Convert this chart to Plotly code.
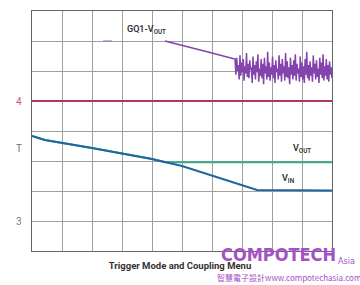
import plotly.graph_objects as go
import numpy as np

# ---- data ----
ref_x = [0, 10]
ref_v = [4.0, 4.0]

vin_x = [0, 0.43, 2.0, 4.0, 5.0, 7.5, 10]
vin_v = [3.708, 3.675, 3.608, 3.517, 3.458, 3.258, 3.255]

vout_x = [0, 0.43, 2.0, 4.0, 4.43, 10]
vout_v = [3.708, 3.675, 3.608, 3.517, 3.49, 3.49]

gq_dash_x = [2.37, 2.67]
gq_dash_v = [4.5, 4.5]

gq_ramp_x = [4.43, 4.8, 5.37, 6.0, 6.5, 6.77]
gq_ramp_v = [4.50, 4.475, 4.442, 4.40, 4.367, 4.35]

gq_noise_v = [4.33, 4.22, 4.36, 4.25, 4.30, 4.18, 4.38, 4.21, 4.32, 4.24, 4.35, 4.17, 4.29, 4.23, 4.40, 4.20,
              4.31, 4.19, 4.34, 4.26, 4.28, 4.15, 4.37, 4.22, 4.30, 4.18, 4.33, 4.24, 4.39, 4.16, 4.27, 4.21,
              4.35, 4.19, 4.31, 4.14, 4.36, 4.23, 4.29, 4.18, 4.41, 4.20, 4.32, 4.17, 4.28, 4.22, 4.37, 4.19,
              4.30, 4.15, 4.34, 4.24, 4.27, 4.18, 4.38, 4.21, 4.31, 4.16, 4.35, 4.23, 4.29, 4.17, 4.40, 4.20,
              4.33, 4.19, 4.28, 4.14, 4.36, 4.22, 4.30, 4.18, 4.34, 4.21, 4.39, 4.17, 4.31, 4.23, 4.27, 4.16,
              4.37, 4.20, 4.32, 4.18, 4.29, 4.15, 4.35, 4.22, 4.41, 4.19, 4.30, 4.17, 4.33, 4.21, 4.28, 4.16,
              4.38, 4.23, 4.31, 4.18, 4.34, 4.20, 4.27, 4.15, 4.36, 4.22, 4.32, 4.19, 4.39, 4.17, 4.29, 4.21,
              4.35, 4.18, 4.30, 4.16, 4.33, 4.22, 4.28, 4.19]
gq_noise_x = list(np.linspace(6.77, 10, len(gq_noise_v)))

y_labels = [(4.0, "4", "#c0607a"), (3.608, "T", "#707070"), (3.0, "3", "#857595")]

fig = go.Figure()
fig.add_trace(go.Scatter(x=ref_x, y=ref_v, mode="lines", line=dict(color="#b03a5e", width=2)))
fig.add_trace(go.Scatter(x=vout_x, y=vout_v, mode="lines", line=dict(color="#3aa98c", width=2)))
fig.add_trace(go.Scatter(x=vin_x, y=vin_v, mode="lines", line=dict(color="#1f66a0", width=2)))
fig.add_trace(go.Scatter(x=gq_dash_x, y=gq_dash_v, mode="lines", line=dict(color="#a07ac0", width=1.2)))
fig.add_trace(go.Scatter(x=gq_ramp_x + gq_noise_x, y=gq_ramp_v + gq_noise_v, mode="lines",
                         line=dict(color="#8443ad", width=1.5)))

font = "Roboto, DejaVu Sans, sans-serif"
for v, t, c in y_labels:
    fig.add_annotation(x=0, y=v, xref="paper", yref="y", text=t, showarrow=False,
                       xanchor="right", xshift=-8, font=dict(family=font, size=10, color=c))

lab = dict(family=font, size=9, color="#333", weight=600)
fig.add_annotation(x=3.8, y=4.59, text="GQ1-V<sub>OUT</sub>", showarrow=False, font=lab)
fig.add_annotation(x=9.0, y=3.60, text="V<sub>OUT</sub>", showarrow=False, font=lab)
fig.add_annotation(x=8.55, y=3.35, text="V<sub>IN</sub>", showarrow=False, font=lab)

# watermark (pixel positions converted to paper coords of the plot area)
wm = "#a451c6"
def px(xp, yp):
    return (xp - 32) / 300, (251 - yp) / 240

cond = "DejaVu Sans Condensed, Liberation Sans Narrow, sans-serif"
x0, y0 = px(278, 254)
fig.add_annotation(x=x0, y=y0, xref="paper", yref="paper", xanchor="center", yanchor="middle",
                   text="<b>COMPOTECH</b>", showarrow=False,
                   font=dict(family=cond, size=18, color=wm))
x0, y0 = px(346, 261)
fig.add_annotation(x=x0, y=y0, xref="paper", yref="paper", xanchor="center", yanchor="middle",
                   text="Asia", showarrow=False,
                   font=dict(family=cond, size=9, color=wm))
x0, y0 = px(289, 277)
fig.add_annotation(x=x0, y=y0, xref="paper", yref="paper", xanchor="center", yanchor="middle",
                   text="智慧電子設計www.compotechasia.com",
                   showarrow=False, font=dict(family="Noto Sans CJK TC, sans-serif", size=8, color=wm))

fig.update_layout(
    width=360, height=285,
    margin=dict(l=32, r=28, t=11, b=34),
    paper_bgcolor="white", plot_bgcolor="white",
    showlegend=False,
    title=dict(text="<b>Trigger Mode and Coupling Menu</b>", x=0.5, xanchor="center",
               y=(285 - 266) / 285, yanchor="middle",
               font=dict(family=font, size=9.5, color="#333")),
)
fig.update_xaxes(range=[0, 10], dtick=1, showticklabels=False, showgrid=True, gridcolor="#a0a0a0",
                 gridwidth=1, zeroline=False, showline=True, linecolor="#666", linewidth=1.3, mirror=True)
fig.update_yaxes(range=[2.75, 4.75], tick0=2.75, dtick=0.25, showticklabels=False, showgrid=True,
                 gridcolor="#a0a0a0", gridwidth=1, zeroline=False, showline=True, linecolor="#666",
                 linewidth=1.3, mirror=True)

fig.write_html("out.html")
